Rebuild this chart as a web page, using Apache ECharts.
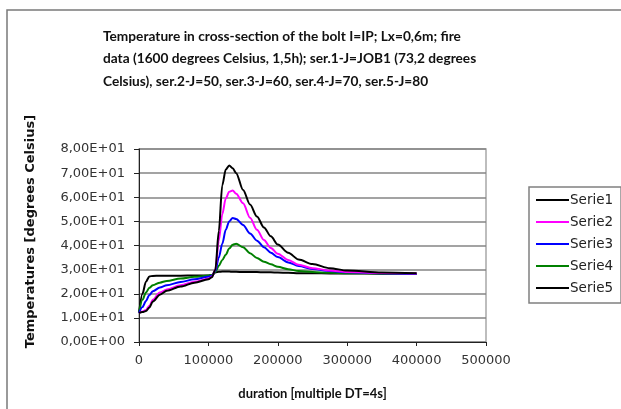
<!DOCTYPE html>
<html>
<head>
<meta charset="utf-8">
<script src="https://cdn.jsdelivr.net/npm/echarts@6/dist/echarts.min.js"></script>
<style>
  html, body { margin: 0; padding: 0; background: #fff; }
  #chart { width: 621px; height: 409px; }
</style>
</head>
<body>
<div id="chart"></div>
<script>
// shared durations (x values)
const durations = [0, 5000, 10000, 15000, 20000, 30000, 40000, 60000, 80000, 100000,
  105000, 110000, 115000, 120000, 125000, 130000, 135000, 140000, 150000, 160000,
  170000, 180000, 190000, 200000, 215000, 230000, 250000, 275000, 300000, 350000, 400000]

// temperatures
const serie1 = [12, 12.4, 12.8, 14.3, 16.8, 19.6, 21.2, 23, 24.6, 26, 26.8, 30, 46, 65, 71.5, 73.2, 72, 70, 63, 57, 52, 47.5, 43.8, 40.4, 37, 34.2, 32.3, 30.6, 29.6, 28.8, 28.5]
const serie2 = [12, 12.6, 13.3, 15, 17.5, 20.5, 21.8, 23.5, 25, 26.3, 27, 30, 42, 53, 59.5, 62.3, 62.8, 61.5, 57.5, 51.5, 46.5, 42.3, 39, 36.6, 34, 32, 30.6, 29.6, 29, 28.6, 28.4]
const serie3 = [12, 14.5, 17, 19.5, 21, 22.6, 23.5, 24.9, 26, 27, 27.5, 29.5, 35, 40.7, 46.5, 50, 51.4, 51, 48.5, 45, 42, 39.3, 37, 35.2, 33, 31.5, 30.3, 29.4, 28.9, 28.5, 28.2]
const serie4 = [12, 17.5, 20.5, 22.5, 23.5, 24.6, 25.3, 26.3, 27, 27.6, 27.8, 29, 31.6, 34, 36.2, 38.8, 40.3, 40.7, 39.3, 36.8, 34.8, 33.3, 32.2, 31.2, 30.2, 29.4, 29, 28.7, 28.5, 28.4, 28.3]
const serie5 = [12, 20, 25, 27.2, 27.4, 27.5, 27.5, 27.5, 27.6, 27.6, 27.7, 28.8, 29.1, 29.2, 29.2, 29.2, 29.1, 29.1, 29, 29, 29, 28.9, 28.9, 28.8, 28.7, 28.5, 28.5, 28.4, 28.4, 28.3, 28.3]

const serieNames = ['Serie1', 'Serie2', 'Serie3', 'Serie4', 'Serie5']
const serieColors = ['#000000', '#ff00ff', '#0000ff', '#008000', '#000000']
const allSeries = [serie1, serie2, serie3, serie4, serie5]

const chart = echarts.init(document.getElementById('chart'))

//格式 8,00E+01
function sciLabel(v) {
  return v.toExponential(2).replace('.', ',').replace(/e\+(\d)$/, 'E+0$1')
}

const option = {
  backgroundColor: '#fff',
  animation: false,
  title: {
    text: 'Temperature in cross-section of the bolt I=IP; Lx=0,6m; fire\ndata (1600 degrees Celsius, 1,5h); ser.1-J=JOB1 (73,2 degrees\nCelsius), ser.2-J=50, ser.3-J=60, ser.4-J=70, ser.5-J=80',
    left: 103,
    top: 25,
    padding: 0,
    textStyle: {
      fontFamily: 'Lato',
      fontWeight: 'bold',
      fontSize: 13.7,
      lineHeight: 22.5,
      color: '#111'
    }
  },
  graphic: [
    {
      type: 'rect',
      shape: { x: 7, y: 10, width: 700, height: 500 },
      style: { fill: 'none', stroke: '#7a7a7a', lineWidth: 1.5 },
      silent: true
    }
  ],
  legend: {
    orient: 'vertical',
    left: 529,
    top: 187,
    padding: [6, 8, 8, 7],
    itemGap: 8,
    itemWidth: 33,
    itemHeight: 2,
    icon: 'rect',
    borderColor: '#808080',
    borderWidth: 1.5,
    borderRadius: 0,
    textStyle: {
      fontFamily: 'DejaVu Sans',
      fontSize: 13.5,
      color: '#222',
      padding: [0, 0, 0, -4],
      lineHeight: 14
    },
    data: serieNames
  },
  grid: {
    left: 139,
    right: 135,
    top: 149,
    bottom: 67,
    show: true,
    borderColor: '#a8a8a8',
    borderWidth: 1.5
  },
  xAxis: {
    type: 'value',
    min: 0,
    max: 500000,
    interval: 100000,
    name: 'duration [multiple DT=4s]',
    nameLocation: 'middle',
    nameGap: 45,
    nameTextStyle: {
      fontFamily: 'Lato',
      fontWeight: 'bold',
      fontSize: 13,
      color: '#111'
    },
    axisLine: { lineStyle: { color: '#222', width: 1 } },
    axisTick: { show: true, length: 4, lineStyle: { color: '#222' } },
    axisLabel: {
      fontFamily: 'DejaVu Sans',
      fontSize: 13,
      color: '#333',
      margin: 12,
      formatter: v => String(v)
    },
    splitLine: { show: false }
  },
  yAxis: {
    type: 'value',
    min: 0,
    max: 80,
    interval: 10,
    name: 'Temperatures [degrees Celsius]',
    nameLocation: 'middle',
    nameGap: 102,
    nameTextStyle: {
      fontFamily: 'DejaVu Sans',
      fontWeight: 'bold',
      fontSize: 13,
      color: '#111',
      padding: [0, 0, 0, 28]
    },
    axisLine: { show: true, lineStyle: { color: '#222', width: 1 } },
    axisTick: { show: true, length: 5, lineStyle: { color: '#222' } },
    axisLabel: {
      fontFamily: 'DejaVu Sans',
      fontSize: 13,
      color: '#333',
      margin: 14,
      formatter: sciLabel
    },
    splitLine: { show: true, lineStyle: { color: '#858585', width: 1.5 } }
  },
  series: allSeries.map((vals, i) => ({
    name: serieNames[i],
    type: 'line',
    showSymbol: false,
    symbol: 'none',
    smooth: 0.3,
    smoothMonotone: 'x',
    color: serieColors[i],
    lineStyle: { width: 2, color: serieColors[i] },
    z: 5 - i,
    data: durations.map((d, k) => [d, vals[k]])
  }))
}

chart.setOption(option)
</script>
</body>
</html>
